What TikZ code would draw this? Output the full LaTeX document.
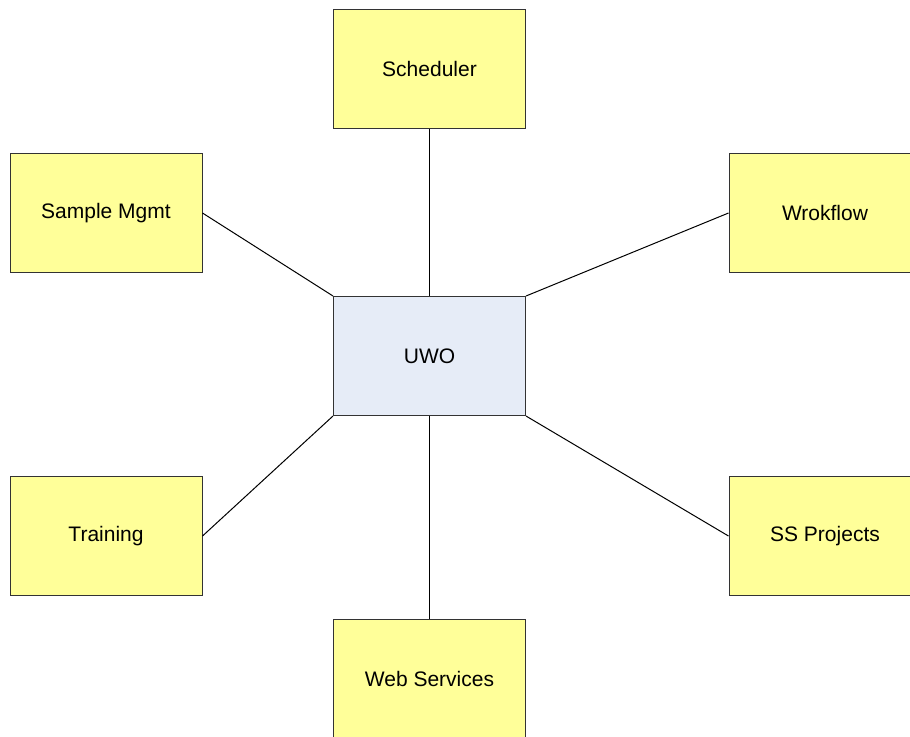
\documentclass[tikz,border=0pt]{standalone}
\usepackage{fontspec}
\setmainfont{Liberation Sans}
\tikzset{
  unit/.style={draw=black!80, line width=0.5pt, minimum width=96pt, minimum height=59.5pt, inner sep=0pt,
    font=\fontsize{10.5}{12}\selectfont},
  part/.style={unit, fill={rgb,255:red,255;green,255;blue,153}},
  hub/.style={unit, fill={rgb,255:red,230;green,236;blue,247}}
}
\begin{document}
\begin{tikzpicture}[x=0.5pt, y=-0.5pt]
\useasboundingbox (0,0) rectangle (910,736);
\clip (0,0) rectangle (910,736);
\node [part] (sched) at (429.5,69) {Scheduler};
\node [part] (sample) at (106,213) {Sample Mgmt};
\node [part] (flow) at (825,213) {Wrokflow};
\node [hub] (uwo) at (429.5,356) {UWO};
\node [part] (train) at (106,536) {Training};
\node [part] (ssp) at (825,536) {SS Projects};
\node [part] (web) at (429.5,679) {Web Services};
\draw [black, line width=0.5pt] (sched) -- (uwo);
\draw [black, line width=0.5pt] (sample.east) -- (uwo.north west);
\draw [black, line width=0.5pt] (flow.west) -- (uwo.north east);
\draw [black, line width=0.5pt] (train.east) -- (uwo.south west);
\draw [black, line width=0.5pt] (ssp.west) -- (uwo.south east);
\draw [black, line width=0.5pt] (web) -- (uwo);
\end{tikzpicture}
\end{document}
